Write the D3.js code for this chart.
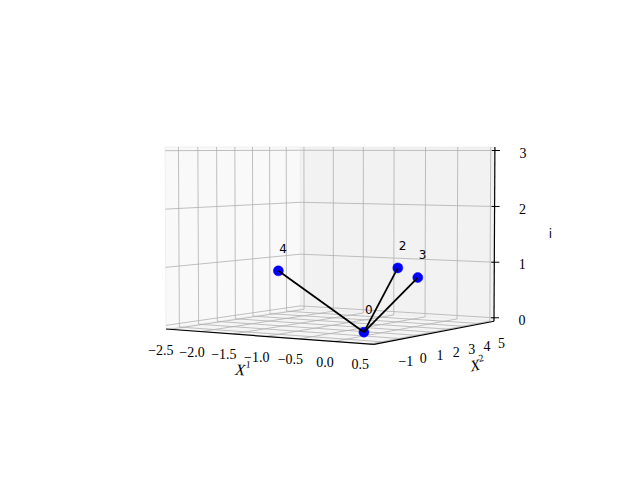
<!DOCTYPE html>
<html>
<head>
<meta charset="utf-8">
<script src="https://cdn.jsdelivr.net/npm/d3@7/dist/d3.min.js"></script>
<style>
    body { margin: 0; background: #fff; }
    .tick-label { font-family: "Liberation Serif", serif; font-size: 14px; fill: #000; }
    .axis-title { font-family: "Liberation Serif", serif; font-size: 16px; font-style: italic; fill: #000; }
    .node-label { font-family: "DejaVu Sans", sans-serif; font-size: 12px; fill: #000; }
</style>
</head>
<body>
<svg width="640" height="480"></svg>
<script>
// values
var nodeIds = [0, 2, 3, 4];
var x1Vals = [0, 0, 1, -1];
var x2Vals = [0, 2, -1, -1];
var iVals = [0, 1, 1, 1];
var edges = [[0, 2], [0, 3], [0, 4]];

var x1Ticks = [-2.5, -2.0, -1.5, -1.0, -0.5, 0.0, 0.5];
var x2Ticks = [-1, 0, 1, 2, 3, 4, 5];
var iTicks = [0, 1, 2, 3];

var x1Lim = [-2.5625, 0.5625],
    x2Lim = [-1.675, 5.87],
    iLim = [-0.0625, 3.0625];

var svg = d3.select("svg");

// box half sizes (4:4:3 box) and camera
var h = 0.5714, hz = 0.4286, dist = 8;
var azim = -57.5 * Math.PI / 180,
    elev = Math.asin(hz / dist);

var bx = d3.scaleLinear().domain(x1Lim).range([-h, h]),
    by = d3.scaleLinear().domain(x2Lim).range([-h, h]),
    bz = d3.scaleLinear().domain(iLim).range([-hz, hz]);

var ca = Math.cos(azim), sa = Math.sin(azim),
    ce = Math.cos(elev), se = Math.sin(elev);
var u = [-sa, ca, 0],
    v = [-se * ca, -se * sa, ce],
    w = [ce * ca, ce * sa, se];

function dot(a, b) { return a[0] * b[0] + a[1] * b[1] + a[2] * b[2]; }

// perspective view, returns normalised screen coords
function view(x, y, z) {
    var p = [bx(x), by(y), bz(z)];
    var d = dist - dot(w, p);
    return [dot(u, p) / d, dot(v, p) / d];
}

// fit view coords to the pixel box of the reference
var cL = view(x1Lim[0], x2Lim[0], iLim[0]),
    cR = view(x1Lim[1], x2Lim[1], iLim[0]),
    cT = view(x1Lim[0], x2Lim[0], iLim[1]);
var px = d3.scaleLinear().domain([cL[0], cR[0]]).range([166, 494]),
    py = d3.scaleLinear().domain([cT[1], cL[1]]).range([147, 329]);

function proj(x, y, z) {
    var s = view(x, y, z);
    return [px(s[0]), py(s[1])];
}

var line = d3.line();
var x0 = x1Lim[0], x1 = x1Lim[1], y0 = x2Lim[0], y1 = x2Lim[1], z0 = iLim[0], z1 = iLim[1];

// panes
var panes = [
    { pts: [[x0, y0, z0], [x0, y1, z0], [x0, y1, z1], [x0, y0, z1]], fill: "#f9f9f9" },
    { pts: [[x0, y1, z0], [x1, y1, z0], [x1, y1, z1], [x0, y1, z1]], fill: "#f2f2f2" },
    { pts: [[x0, y0, z0], [x1, y0, z0], [x1, y1, z0], [x0, y1, z0]], fill: "#f5f5f5" }
];
svg.append("g").selectAll("path")
    .data(panes)
    .enter().append("path")
    .attr("d", function(p) { return line(p.pts.map(function(q) { return proj(q[0], q[1], q[2]); })) + "Z"; })
    .attr("fill", function(p) { return p.fill; })
    .attr("stroke", "#ececec")
    .attr("stroke-width", 0.8);

// grid lines
var grid = [];
x1Ticks.forEach(function(t) {
    grid.push([[t, y0, z0], [t, y1, z0], [t, y1, z1]]);
});
x2Ticks.forEach(function(t) {
    grid.push([[x1, t, z0], [x0, t, z0], [x0, t, z1]]);
});
iTicks.forEach(function(t) {
    grid.push([[x0, y0, t], [x0, y1, t], [x1, y1, t]]);
});
svg.append("g").selectAll("path")
    .data(grid)
    .enter().append("path")
    .attr("d", function(g) {
        return line(g.map(function(q) { return proj(q[0], q[1], q[2]); }));
    })
    .attr("fill", "none")
    .attr("stroke", "#b0b0b0")
    .attr("stroke-width", 0.8);

// axis lines
var axisLines = [
    [[x0, y0, z0], [x1, y0, z0]],
    [[x1, y0, z0], [x1, y1, z0]],
    [[x1, y1, z0], [x1, y1, z1]]
];
svg.append("g").selectAll("path")
    .data(axisLines)
    .enter().append("path")
    .attr("d", function(a) { return line(a.map(function(q) { return proj(q[0], q[1], q[2]); })); })
    .attr("stroke", "#000")
    .attr("stroke-width", 1.2);

// z ticks
svg.append("g").selectAll("line")
    .data(iTicks)
    .enter().append("line")
    .attr("x1", function(t) { return proj(x1, y1, t)[0] - 3; })
    .attr("x2", function(t) { return proj(x1, y1, t)[0] + 5; })
    .attr("y1", function(t) { return proj(x1, y1, t)[1]; })
    .attr("y2", function(t) { return proj(x1, y1, t)[1]; })
    .attr("stroke", "#000")
    .attr("stroke-width", 1);

function fmt(t, digits) {
    return d3.format(digits)(t).replace("-", "\u2212");
}

// tick labels
var labels = svg.append("g");
labels.selectAll(".lx")
    .data(x1Ticks)
    .enter().append("text")
    .attr("class", "tick-label")
    .attr("x", function(t) { return proj(t, y0, z0)[0] - 9; })
    .attr("y", function(t) { return proj(t, y0, z0)[1] + 22; })
    .attr("text-anchor", "middle")
    .attr("dominant-baseline", "middle")
    .text(function(t) { return fmt(t, ".1f"); });

labels.selectAll(".ly")
    .data(x2Ticks)
    .enter().append("text")
    .attr("class", "tick-label")
    .attr("x", function(t) { return proj(x1, t, z0)[0] + 20; })
    .attr("y", function(t) { return proj(x1, t, z0)[1] + 21; })
    .attr("text-anchor", "middle")
    .attr("dominant-baseline", "middle")
    .text(function(t) { return fmt(t, "d"); });

labels.selectAll(".lz")
    .data(iTicks)
    .enter().append("text")
    .attr("class", "tick-label")
    .attr("x", function(t) { return proj(x1, y1, t)[0] + 28; })
    .attr("y", function(t) { return proj(x1, y1, t)[1] + 4; })
    .attr("text-anchor", "middle")
    .attr("dominant-baseline", "middle")
    .text(function(t) { return fmt(t, "d"); });

// axis titles
function angleOf(a, b) {
    return Math.atan2(b[1] - a[1], b[0] - a[0]) * 180 / Math.PI;
}
var midX = proj((x0 + x1) / 2, y0, z0),
    angX = angleOf(proj(x0, y0, z0), proj(x1, y0, z0));
var tX = svg.append("text")
    .attr("class", "axis-title")
    .attr("text-anchor", "middle")
    .attr("dominant-baseline", "middle")
    .attr("transform", "translate(" + (midX[0] - 23) + "," + (midX[1] + 35) + ") rotate(" + angX + ")");
tX.append("tspan").text("X");
tX.append("tspan").attr("dy", -6).attr("font-size", 10).attr("font-style", "normal").text("1");

var midY = proj(x1, (y0 + y1) / 2, z0),
    angY = angleOf(proj(x1, y0, z0), proj(x1, y1, z0));
var tY = svg.append("text")
    .attr("class", "axis-title")
    .attr("text-anchor", "middle")
    .attr("dominant-baseline", "middle")
    .attr("transform", "translate(" + (midY[0] + 40) + "," + (midY[1] + 34) + ") rotate(" + angY + ")");
tY.append("tspan").text("X");
tY.append("tspan").attr("dy", -6).attr("font-size", 10).attr("font-style", "normal").text("2");

var midZ = proj(x1, y1, (z0 + z1) / 2);
svg.append("text")
    .attr("class", "node-label")
    .attr("font-size", 13)
    .attr("x", midZ[0] + 56)
    .attr("y", midZ[1])
    .attr("text-anchor", "middle")
    .attr("dominant-baseline", "middle")
    .text("i");

// nodes, then edges on top
var nodes = nodeIds.map(function(id, k) {
    return { id: id, p: proj(x1Vals[k], x2Vals[k], iVals[k]), lp: proj(x1Vals[k], x2Vals[k], iVals[k] + 0.3) };
});
var byId = {};
nodes.forEach(function(n) { byId[n.id] = n; });

svg.append("g").selectAll("circle")
    .data(nodes)
    .enter().append("circle")
    .attr("cx", function(n) { return n.p[0]; })
    .attr("cy", function(n) { return n.p[1]; })
    .attr("r", 5)
    .attr("fill", "#0000ff")
    .attr("stroke", "#0000ff")
    .attr("stroke-width", 0.5);

svg.append("g").selectAll("path")
    .data(edges)
    .enter().append("path")
    .attr("d", function(e) { return line([byId[e[0]].p, byId[e[1]].p]); })
    .attr("stroke", "#000")
    .attr("stroke-width", 1.8)
    .attr("fill", "none");

svg.append("g").selectAll("text")
    .data(nodes)
    .enter().append("text")
    .attr("class", "node-label")
    .attr("x", function(n) { return n.lp[0] + 1; })
    .attr("y", function(n) { return n.lp[1]; })
    .text(function(n) { return n.id; });
</script>
</body>
</html>
